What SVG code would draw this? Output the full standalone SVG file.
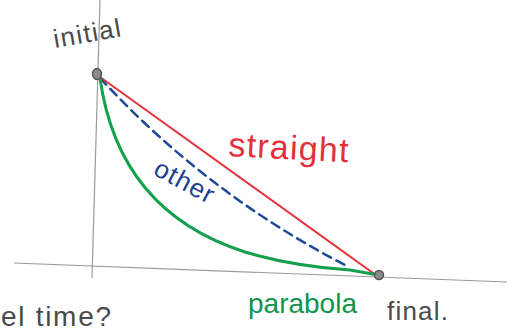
<svg xmlns="http://www.w3.org/2000/svg" width="514" height="332" viewBox="0 0 514 332">
<style>
.axis{stroke:#9a9a9a;stroke-width:1.2;fill:none}
.curve{fill:none;stroke-linecap:round}
.pt{fill:#8a8a8a;stroke:#555;stroke-width:1.5}
.hand{font-family:"Liberation Sans",Arial,sans-serif}
.grey{fill:#4a4a4a}
</style>
<rect width="514" height="332" fill="#ffffff"/>
<g id="axes">
<path class="axis" d="M100,0 L92,278"/>
<path class="axis" d="M14,263 L507,282"/>
</g>
<g id="connectors">
<path id="straight-path" class="curve" d="M100,77 L373,273" stroke="#e8323c" stroke-width="2"/>
<path id="other-path" class="curve" d="M100,78 Q206,193 345,265" stroke="#1f4a98" stroke-width="2.5" stroke-dasharray="9 6"/>
<path id="parabola-path" class="curve" d="M100,78 C112,165 158,224 245,252 C285,264 320,268 350,270 L378,275" stroke="#14a04c" stroke-width="3"/>
</g>
<g id="node-initial">
<ellipse class="pt" cx="97" cy="74" rx="4.5" ry="5.5"/>
<text class="hand grey" x="55" y="48" font-size="26" textLength="68" transform="rotate(-10 55 48)">initial</text>
</g>
<g id="node-final">
<ellipse class="pt" cx="379" cy="275" rx="4.5" ry="4.5"/>
<text class="hand grey" x="387" y="320" font-size="26" textLength="61">final.</text>
</g>
<g id="labels">
<text class="hand" x="228" y="156" font-size="34" fill="#e3303a" textLength="120" transform="rotate(3 228 156)">straight</text>
<text class="hand" x="152" y="174" font-size="26" fill="#1d3f8f" textLength="64" transform="rotate(28 152 174)">other</text>
<text class="hand" x="248" y="313" font-size="28" fill="#10954a" textLength="109">parabola</text>
<text class="hand grey" x="1" y="326" font-size="28" textLength="110">el time?</text>
</g>
</svg>
